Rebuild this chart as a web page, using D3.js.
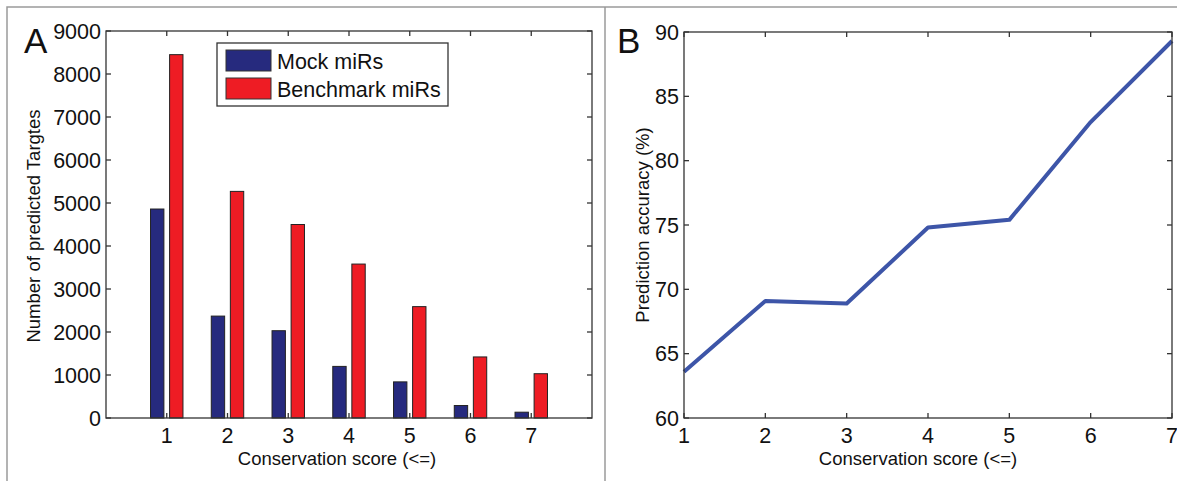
<!DOCTYPE html>
<html>
<head>
<meta charset="utf-8">
<script src="https://cdn.jsdelivr.net/npm/d3@7"></script>
<style>
  body { margin: 0; background: #fff; }
  text { font-family: "Liberation Sans", Arial, sans-serif; fill: #111; }
</style>
</head>
<body>
<svg id="chart" width="1177" height="481"></svg>
<script>
// panel A data
var scores = [1, 2, 3, 4, 5, 6, 7];
var mockCounts = [4860, 2370, 2030, 1200, 840, 290, 135];
var benchCounts = [8450, 5270, 4500, 3580, 2590, 1420, 1030];
var countTicks = [0, 1000, 2000, 3000, 4000, 5000, 6000, 7000, 8000, 9000];
var seriesNames = ['Mock miRs', 'Benchmark miRs'];
var seriesColors = ['#262a7e', '#ee1c24'];

// panel B data
var accuracy = [63.6, 69.1, 68.9, 74.8, 75.4, 83.0, 89.3];
var accTicks = [60, 65, 70, 75, 80, 85, 90];

var svg = d3.select('#chart');
var tickFont = 21.5;
var titleFont = 18.5;
var tickLen = 5;

// outer frame
svg.append('path').attr('d', 'M7,481V7H1177M605,7V481')
    .attr('fill', 'none').attr('stroke', '#9a9a9a').attr('stroke-width', 1.5);

// box axes with inner ticks on all 4 sides (matlab style)
function boxAxes(g, x, y, xTicks, yTicks) {
    var x0 = x.range()[0], x1 = x.range()[1], y0 = y.range()[0], y1 = y.range()[1];
    var ax = g.append('g');
    xTicks.forEach(function (t) {
        ax.append('line').attr('x1', x(t)).attr('x2', x(t)).attr('y1', y0).attr('y2', y0 - tickLen);
        ax.append('line').attr('x1', x(t)).attr('x2', x(t)).attr('y1', y1).attr('y2', y1 + tickLen);
        g.append('text').attr('x', x(t)).attr('y', y0 + 25).attr('text-anchor', 'middle')
            .attr('font-size', tickFont).text(t);
    });
    yTicks.forEach(function (t) {
        ax.append('line').attr('x1', x0).attr('x2', x0 + tickLen).attr('y1', y(t)).attr('y2', y(t));
        ax.append('line').attr('x1', x1).attr('x2', x1 - tickLen).attr('y1', y(t)).attr('y2', y(t));
        g.append('text').attr('x', x0 - 5).attr('y', y(t)).attr('dy', '0.36em').attr('text-anchor', 'end')
            .attr('font-size', tickFont).text(t);
    });
    ax.append('rect').attr('x', x0).attr('y', y1).attr('width', x1 - x0).attr('height', y0 - y1)
        .attr('fill', 'none');
    ax.selectAll('line, rect').attr('stroke', '#333').attr('stroke-width', 1.3);
}

// ---- panel A: grouped bars
var gA = svg.append('g');
var xA = d3.scaleLinear().domain([0, 8]).range([106, 592]);
var yA = d3.scaleLinear().domain([0, 9000]).range([418, 31]);
var barW = xA(0.22) - xA(0);
var offs = [-0.157, 0.157];

[mockCounts, benchCounts].forEach(function (vals, si) {
    gA.append('g').selectAll('rect').data(vals).join('rect')
        .attr('x', function (d, i) { return xA(scores[i] + offs[si]) - barW / 2; })
        .attr('y', function (d) { return yA(d); })
        .attr('width', barW)
        .attr('height', function (d) { return yA(0) - yA(d); })
        .attr('fill', seriesColors[si])
        .attr('stroke', '#222').attr('stroke-width', 1);
});
boxAxes(gA, xA, yA, scores, countTicks);

gA.append('text').attr('x', 337).attr('y', 465).attr('text-anchor', 'middle')
    .attr('font-size', titleFont).text('Conservation score (<=)');
gA.append('text').attr('transform', 'translate(40,226) rotate(-90)').attr('text-anchor', 'middle')
    .attr('font-size', titleFont).text('Number of predicted Targtes');
gA.append('text').attr('x', 24).attr('y', 53).attr('font-size', 35).text('A');

// legend
var leg = gA.append('g').attr('transform', 'translate(217,43)');
leg.append('rect').attr('width', 231).attr('height', 63).attr('fill', '#fff')
    .attr('stroke', '#333').attr('stroke-width', 1.3);
seriesNames.forEach(function (name, i) {
    leg.append('rect').attr('x', 9).attr('y', 7 + i * 28).attr('width', 45).attr('height', 21)
        .attr('fill', seriesColors[i]).attr('stroke', '#333').attr('stroke-width', 1);
    leg.append('text').attr('x', 60).attr('y', 18 + i * 28).attr('dy', '0.36em')
        .attr('font-size', 21.5).text(name);
});

// ---- panel B: line
var gB = svg.append('g');
var xB = d3.scaleLinear().domain([1, 7]).range([684, 1172]);
var yB = d3.scaleLinear().domain([60, 90]).range([418, 32]);

gB.append('path').datum(accuracy)
    .attr('d', d3.line().x(function (d, i) { return xB(scores[i]); }).y(function (d) { return yB(d); }))
    .attr('fill', 'none').attr('stroke', '#3d55a8').attr('stroke-width', 4).attr('stroke-linejoin', 'round');
boxAxes(gB, xB, yB, scores, accTicks);

gB.append('text').attr('x', 918).attr('y', 465).attr('text-anchor', 'middle')
    .attr('font-size', titleFont).text('Conservation score (<=)');
gB.append('text').attr('transform', 'translate(649,225) rotate(-90)').attr('text-anchor', 'middle')
    .attr('font-size', titleFont).text('Prediction accuracy (%)');
gB.append('text').attr('x', 617).attr('y', 53).attr('font-size', 35).text('B');
</script>
</body>
</html>
